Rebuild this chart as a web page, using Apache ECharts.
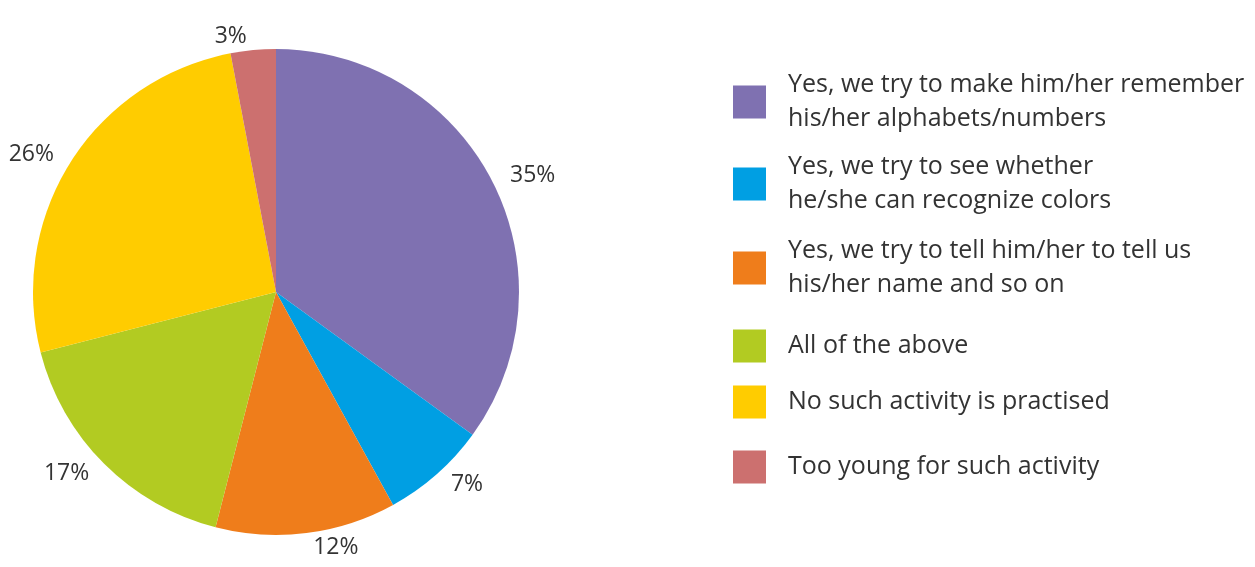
<!DOCTYPE html>
<html>
<head>
<meta charset="utf-8">
<title>Activities practised</title>
<script src="https://cdn.jsdelivr.net/npm/echarts@6/dist/echarts.min.js"></script>
<style>
  html, body { margin: 0; padding: 0; background: #ffffff; }
  #chart { width: 1255px; height: 567px; }
</style>
</head>
<body>
<div id="chart"></div>
<script>
// Response categories (legend text, with line breaks) and their shares in percent
const categories = [
  'Yes, we try to make him/her remember\nhis/her alphabets/numbers',
  'Yes, we try to see whether\nhe/she can recognize colors',
  'Yes, we try to tell him/her to tell us\nhis/her name and so on',
  'All of the above',
  'No such activity is practised',
  'Too young for such activity'
];
const shares = [35, 7, 12, 17, 26, 3];
const colors = ['#7F71B1', '#009FE3', '#EF7D1B', '#B2CB22', '#FFCC00', '#CC706F'];

// Vertical centre of each legend entry
const legendCenters = [102, 184, 268, 346, 402, 467];
const LINE_H = 34;

const chart = echarts.init(document.getElementById('chart'), null, { renderer: 'canvas' });

const legends = categories.map((name, i) => {
  const lines = name.split('\n').length;
  const h = Math.max(lines * LINE_H, 33);
  return {
    orient: 'vertical',
    left: 733,
    top: legendCenters[i] - h / 2,
    padding: 0,
    itemWidth: 33,
    itemHeight: 33,
    icon: 'rect',
    selectedMode: false,
    data: [name],
    textStyle: {
      fontFamily: 'Open Sans',
      fontSize: 25,
      color: '#333333',
      lineHeight: LINE_H,
      padding: [0, 0, 0, 17]
    }
  };
});

chart.setOption({
  animation: false,
  color: colors,
  legend: legends,
  series: [{
    type: 'pie',
    center: [276, 292],
    radius: [0, 243],
    startAngle: 90,
    clockwise: true,
    avoidLabelOverlap: false,
    label: {
      show: true,
      position: 'outside',
      formatter: '{c}%',
      fontFamily: 'Open Sans',
      fontSize: 23,
      color: '#333333'
    },
    labelLine: { show: false, length: 14, length2: 0 },
    itemStyle: { borderWidth: 0 },
    emphasis: { disabled: true },
    data: categories.map((name, i) => ({ name, value: shares[i] }))
  }]
});
</script>
</body>
</html>
